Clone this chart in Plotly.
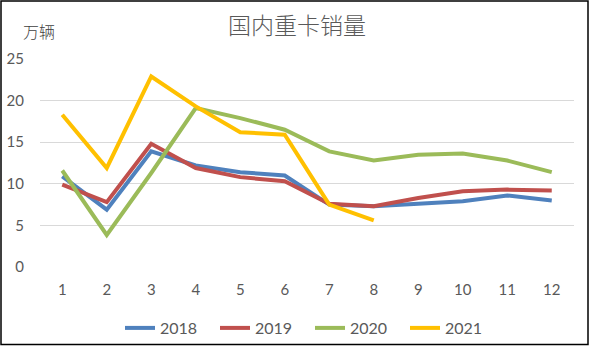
import plotly.graph_objects as go

months = [str(i) for i in range(1, 13)]
s2018 = [10.9, 6.9, 13.9, 12.2, 11.4, 11.0, 7.5, 7.3, 7.6, 7.9, 8.6, 8.0]
s2019 = [9.9, 7.8, 14.8, 11.9, 10.8, 10.3, 7.6, 7.3, 8.3, 9.1, 9.3, 9.2]
s2020 = [11.6, 3.85, 11.3, 19.1, 17.9, 16.5, 13.9, 12.8, 13.5, 13.65, 12.8, 11.4]
s2021 = [18.3, 11.9, 22.9, 19.3, 16.2, 15.9, 7.5, 5.6]
series = [("2018", s2018, "#4F81BD"), ("2019", s2019, "#C0504D"),
          ("2020", s2020, "#9BBB59"), ("2021", s2021, "#FFC000")]
yticks = [0, 5, 10, 15, 20, 25]

fig = go.Figure()
for name, vals, col in series:
    fig.add_trace(go.Scatter(x=months[:len(vals)], y=vals, name=name, mode="lines",
                             line=dict(color=col, width=4)))

W, H = 590, 347
ml, mr, mt, mb = 40, 16, 59, 80
pw, ph = W - ml - mr, H - mt - mb
def px(x): return (x - ml) / pw
def py(y): return (H - mb - y) / ph

fig.update_layout(
    width=W, height=H, margin=dict(l=ml, r=mr, t=mt, b=mb, autoexpand=False),
    paper_bgcolor="white", plot_bgcolor="white",
    font=dict(family="Lato, 'Noto Sans CJK SC'", color="#595959", size=15),
    xaxis=dict(type="category", range=[-0.5, 11.5], showgrid=False, zeroline=False,
               showline=False, ticks="", tickfont=dict(size=15, color="#595959"),
               ticklabelstandoff=12),
    yaxis=dict(range=[0, 25], tickvals=yticks, showgrid=True, gridcolor="#D9D9D9",
               gridwidth=1, zeroline=False, showline=False, ticks="",
               tickfont=dict(size=15, color="#595959"), ticklabelstandoff=15),
    legend=dict(orientation="h", x=px(120), xanchor="left", y=py(328), yanchor="middle",
                font=dict(size=16, color="#595959"), entrywidth=50,
                entrywidthmode="pixels", tracegroupgap=0, bgcolor="rgba(0,0,0,0)"),
    showlegend=True,
    shapes=[dict(type="rect", xref="paper", yref="paper",
                 x0=px(1), x1=px(588), y0=py(344.5), y1=py(1),
                 line=dict(color="black", width=1.5), layer="above")],
    annotations=[
        dict(text="国内重卡销量", xref="paper", yref="paper", x=px(297), y=py(24),
             xanchor="center", yanchor="middle", showarrow=False,
             font=dict(family="Noto Sans CJK SC", size=23, color="#595959", weight=300)),
        dict(text="万辆", xref="paper", yref="paper", x=px(21), y=py(31),
             xanchor="left", yanchor="middle", showarrow=False,
             font=dict(family="Noto Sans CJK SC", size=16, color="#404040", weight=300)),
    ],
)
fig.write_html("out.html")
